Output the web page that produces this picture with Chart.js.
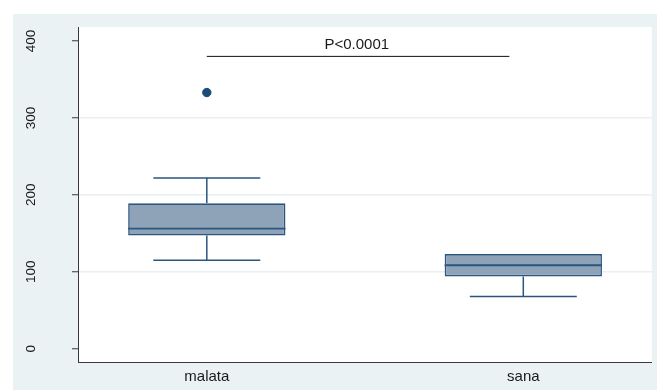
<!DOCTYPE html>
<html>
<head>
<meta charset="utf-8">
<script src="https://cdn.jsdelivr.net/npm/chart.js@4/dist/chart.umd.min.js"></script>
<style>
  html, body { margin: 0; padding: 0; background: #ffffff; }
  #wrap { width: 657px; height: 390px; }
</style>
</head>
<body>
<div id="wrap"><canvas id="c" width="657" height="390"></canvas></div>
<script>
// Groups and their box-plot summaries
const groups = ['malata', 'sana'];
const groupPos = [1, 2];
const lowerWhisker = [115, 68];
const quartile1 = [147, 94];
const medians = [156, 108.5];
const quartile3 = [189, 123];
const upperWhisker = [222, 123];
const outliers = [[333], []];

// Y axis tick values
const yTicks = [0, 100, 200, 300, 400];
const gridValues = [100, 200, 300];

// Significance bracket
const pLabel = 'P<0.0001';
const pLineY = 380;
const pLineFrom = 1;
const pLineTo = 1.956;
const pTextX = 1.474;
const pTextY = 395;

const BOX_WIDTH = 0.497;   // in x-axis units
const CAP_WIDTH = 0.338;
const LINE_COLOR = '#2B5680';
const FILL_COLOR = '#8EA3B8';
const OUTER_BG = '#EAF2F3';

// Whisker stems and caps, split with null gaps (zero-length whiskers are skipped)
const whiskerPts = [];
const medianPts = [];
groups.forEach((g, i) => {
  const x = groupPos[i];
  const c = CAP_WIDTH / 2;
  const h = BOX_WIDTH / 2;
  if (upperWhisker[i] > quartile3[i]) {
    whiskerPts.push({x: x, y: quartile3[i]}, {x: x, y: upperWhisker[i]}, {x: x, y: null});
    whiskerPts.push({x: x - c, y: upperWhisker[i]}, {x: x + c, y: upperWhisker[i]}, {x: x, y: null});
  }
  if (lowerWhisker[i] < quartile1[i]) {
    whiskerPts.push({x: x, y: quartile1[i]}, {x: x, y: lowerWhisker[i]}, {x: x, y: null});
    whiskerPts.push({x: x - c, y: lowerWhisker[i]}, {x: x + c, y: lowerWhisker[i]}, {x: x, y: null});
  }
  medianPts.push({x: x - h, y: medians[i]}, {x: x + h, y: medians[i]}, {x: x, y: null});
});

const outlierPts = [];
outliers.forEach((list, i) => list.forEach(v => outlierPts.push({x: groupPos[i], y: v})));

const bracketPts = [{x: pLineFrom, y: pLineY}, {x: pLineTo, y: pLineY}];

// Panel backgrounds and the bracket label
const backdrop = {
  id: 'backdrop',
  beforeDraw(chart) {
    const {ctx, chartArea: a} = chart;
    ctx.save();
    ctx.fillStyle = '#ffffff';
    ctx.fillRect(0, 0, chart.width, chart.height);
    ctx.fillStyle = OUTER_BG;
    ctx.fillRect(13, 14, chart.width - 13, chart.height - 14);
    ctx.fillStyle = '#ffffff';
    ctx.fillRect(a.left, a.top, a.right - a.left, a.bottom - a.top);
    ctx.restore();
  },
  afterDatasetsDraw(chart) {
    const {ctx, scales: {x, y}} = chart;
    ctx.save();
    ctx.fillStyle = '#1a1a1a';
    ctx.font = '15px "Liberation Sans", Arial, sans-serif';
    ctx.textAlign = 'center';
    ctx.textBaseline = 'middle';
    ctx.fillText(pLabel, x.getPixelForValue(pTextX), y.getPixelForValue(pTextY));
    ctx.restore();
  }
};

new Chart(document.getElementById('c'), {
  type: 'bar',
  data: {
    datasets: [
      {
        type: 'bar',
        data: groupPos.map((x, i) => ({x: x, y: [quartile1[i], quartile3[i]]})),
        backgroundColor: FILL_COLOR,
        borderColor: LINE_COLOR,
        borderWidth: 1.6,
        borderSkipped: false,
        barPercentage: BOX_WIDTH,
        categoryPercentage: 1,
        order: 3
      },
      {
        type: 'line',
        data: whiskerPts,
        borderColor: LINE_COLOR,
        borderWidth: 1.5,
        pointRadius: 0,
        spanGaps: false,
        order: 4
      },
      {
        type: 'line',
        data: medianPts,
        borderColor: LINE_COLOR,
        borderWidth: 1.8,
        pointRadius: 0,
        spanGaps: false,
        order: 1
      },
      {
        type: 'line',
        data: bracketPts,
        borderColor: '#111111',
        borderWidth: 1,
        pointRadius: 0,
        order: 1
      },
      {
        type: 'scatter',
        data: outlierPts,
        backgroundColor: '#1D4B78',
        borderColor: '#1D4B78',
        pointRadius: 4.2,
        order: 0
      }
    ]
  },
  options: {
    responsive: false,
    animation: false,
    events: [],
    layout: { padding: { left: 0, top: 27, right: 3, bottom: 0 } },
    plugins: { legend: { display: false }, tooltip: { enabled: false } },
    scales: {
      x: {
        type: 'linear',
        min: 0.593,
        max: 2.406,
        offset: false,
        afterBuildTicks(s) { s.ticks = groupPos.map(v => ({value: v})); },
        afterFit(s) { s.height = 28; s.paddingLeft = 0; s.paddingRight = 0; },
        grid: { display: false, drawTicks: false },
        border: { display: true, color: '#3a3a3a', width: 1 },
        ticks: {
          padding: 6,
          color: '#1a1a1a',
          font: { family: '"Liberation Sans", Arial, sans-serif', size: 15 },
          callback: (v) => groups[groupPos.indexOf(v)] ?? ''
        }
      },
      y: {
        min: -17.3,
        max: 418.2,
        afterBuildTicks(s) { s.ticks = yTicks.map(v => ({value: v})); },
        afterFit(s) { s.width = 78; s.paddingTop = 0; s.paddingBottom = 0; },
        grid: {
          color: (c) => gridValues.includes(c.tick && c.tick.value) ? '#E9F0F1' : 'rgba(0,0,0,0)',
          lineWidth: 1.5,
          tickColor: '#3a3a3a',
          tickWidth: 1,
          tickLength: 6,
          drawTicks: true
        },
        border: { display: true, color: '#3a3a3a', width: 1 },
        ticks: {
          minRotation: 90,
          maxRotation: 90,
          crossAlign: 'center',
          padding: 29,
          color: '#1a1a1a',
          font: { family: '"Liberation Sans", Arial, sans-serif', size: 13.5 }
        }
      }
    }
  },
  plugins: [backdrop]
});
</script>
</body>
</html>
